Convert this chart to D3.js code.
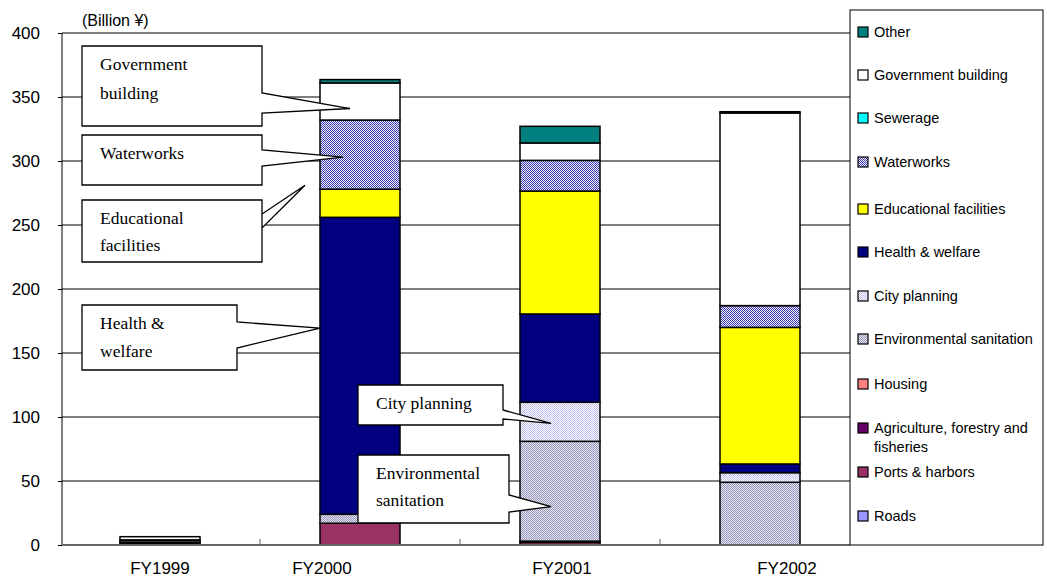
<!DOCTYPE html>
<html><head><meta charset="utf-8">
<script src="https://cdn.jsdelivr.net/npm/d3@7"></script>
<style>body{margin:0;background:#fff}svg{display:block}</style>
</head><body><svg id="c" width="1047" height="583"></svg>
<script>
const categories = ["FY1999","FY2000","FY2001","FY2002"];
const seriesNames = ["Roads","Ports & harbors","Agriculture, forestry and fisheries","Housing","Environmental sanitation","City planning","Health & welfare","Educational facilities","Waterworks","Sewerage","Government building","Other"];
const roads      = [0, 0, 0, 0];
const ports      = [1.5, 17, 2, 0];
const agri       = [0.5, 0, 1, 0];
const housing    = [0, 0, 0, 0];
const envSan     = [1.5, 7, 78, 49];
const cityPlan   = [0, 0, 30.5, 7.5];
const health     = [0.5, 232, 69, 6.8];
const education  = [0, 22, 96, 106.7];
const waterworks = [0, 54, 24, 17];
const sewerage   = [0, 0, 0, 0];
const govBuild   = [2.5, 29, 13.6, 150.5];
const other      = [0, 2.6, 13, 1];
const yTicks = [0,50,100,150,200,250,300,350,400];

const seriesValues = [roads, ports, agri, housing, envSan, cityPlan, health, education, waterworks, sewerage, govBuild, other];
const fills = ["#9999ff","#993366","#660066","#ff8080","url(#pEnv)","url(#pCity)","#000080","#ffff00","url(#pWater)","#00ffff","#ffffff","#008080"];

const svg = d3.select("#c");
const defs = svg.append("defs");
function checker(id, dark, light){
  const p = defs.append("pattern").attr("id",id).attr("width",2).attr("height",2).attr("patternUnits","userSpaceOnUse");
  p.append("rect").attr("width",2).attr("height",2).attr("fill",light);
  p.append("rect").attr("width",1).attr("height",1).attr("fill",dark);
  p.append("rect").attr("x",1).attr("y",1).attr("width",1).attr("height",1).attr("fill",dark);
}
checker("pWater","#3333b0","#ffffff");
checker("pCity","#c0c0ec","#ffffff");
checker("pEnv","#9898c0","#e4e4ec");

const x = d3.scaleBand().domain(categories).range([60,860]).paddingInner(0.6).paddingOuter(0.3);
const y = d3.scaleLinear().domain([0,400]).range([545,33]);

// gridlines
svg.append("g").selectAll("line").data(yTicks.filter(d=>d>0)).join("line")
  .attr("x1",62).attr("x2",850).attr("y1",d=>y(d)).attr("y2",d=>y(d))
  .attr("stroke","#000").attr("stroke-width",1.2);

// y axis
const ya = svg.append("g").attr("transform","translate(62,0)")
  .call(d3.axisLeft(y).tickValues(yTicks).tickSize(4).tickPadding(18));
ya.select(".domain").attr("stroke","#000").attr("d","M0,545V33");
ya.selectAll("text").attr("font-family","Liberation Sans, Arial, sans-serif").attr("font-size",17).attr("fill","#000");

// bars
const stacked = d3.stack().keys(d3.range(seriesNames.length))
  .value((i,k)=>seriesValues[k][i])(d3.range(categories.length));
const gBars = svg.append("g");
stacked.forEach((layer,k)=>{
  gBars.selectAll(null).data(layer.map((d,i)=>({d,i}))).join("rect")
    .filter(o=>o.d[1]-o.d[0]>0)
    .attr("x",o=>x(categories[o.i])).attr("width",x.bandwidth())
    .attr("y",o=>y(o.d[1])).attr("height",o=>y(o.d[0])-y(o.d[1]))
    .attr("fill",fills[k]).attr("stroke","#000").attr("stroke-width",1.5);
});

// x axis
const xa = svg.append("g").attr("transform","translate(0,545)");
xa.append("line").attr("x1",62).attr("x2",850).attr("stroke","#666").attr("stroke-width",2);
xa.selectAll("line.t").data(x.domain().slice(1)).join("line").attr("class","t")
  .attr("x1",d=>x(d)-x.step()*x.paddingInner()/2).attr("x2",d=>x(d)-x.step()*x.paddingInner()/2)
  .attr("y1",0).attr("y2",-6).attr("stroke","#666");
const labelShift = [0,-38,2,27];
xa.selectAll("text").data(categories).join("text")
  .attr("x",(d,i)=>x(d)+x.bandwidth()/2+labelShift[i]).attr("y",29)
  .attr("text-anchor","middle").attr("font-family","Liberation Sans, Arial, sans-serif").attr("font-size",17).text(d=>d);

// unit label
svg.append("text").attr("x",82).attr("y",26).attr("font-family","Liberation Sans, Arial, sans-serif").attr("font-size",16).text("(Billion ¥)");

// callouts
function callout(bx,by,bw,bh,b1,b2,tx,ty,lines,lineH){
  const r=bx+bw;
  const path=`M${bx},${by}H${r}V${b1}L${tx},${ty}L${r},${b2}V${by+bh}H${bx}Z`;
  svg.append("path").attr("d",path).attr("fill","#fff").attr("stroke","#000").attr("stroke-width",1.3);
  lines.forEach((t,i)=>svg.append("text").attr("x",bx+18).attr("y",by+24+i*lineH)
    .attr("font-family","Liberation Serif, Times New Roman, serif").attr("font-size",17.5).text(t));
}
const cx = c=>x(c);
callout(82,46,180,80,93,113,cx("FY2000")+30,y(341),["Government","building"],29);
callout(82,135,180,50,150,166,cx("FY2000")+23,y(303),["Waterworks"],29);
callout(82,200,180,62,228,214,cx("FY2000")-15,y(281),["Educational","facilities"],27);
callout(82,305,155,65,322,348,cx("FY2000"),y(169.5),["Health &","welfare"],28);
callout(358,385,145,40,410,419,cx("FY2001")+31,y(95),["City planning"],29);
callout(358,455,151,68,495,512,cx("FY2001")+31,y(30),["Environmental","sanitation"],27);

// legend
const lg = svg.append("g");
lg.append("rect").attr("x",850).attr("y",10).attr("width",193).attr("height",535).attr("fill","#fff").attr("stroke","#000").attr("stroke-width",1);
const legendY = [32,75,118,162,209,252,296,339,384,428,472,516];
const legendOrder = d3.range(seriesNames.length).reverse();
const lf = "Liberation Sans, Arial, sans-serif";
legendOrder.forEach((k,j)=>{
  const yy = legendY[j];
  lg.append("rect").attr("x",858).attr("y",yy-5).attr("width",10).attr("height",10).attr("fill",fills[k]).attr("stroke","#000").attr("stroke-width",1.2);
  const name = seriesNames[k];
  if(name.startsWith("Agriculture")){
    lg.append("text").attr("x",874).attr("y",yy+5).attr("font-family",lf).attr("font-size",14.5).text("Agriculture, forestry and");
    lg.append("text").attr("x",874).attr("y",yy+24).attr("font-family",lf).attr("font-size",14.5).text("fisheries");
  } else {
    lg.append("text").attr("x",874).attr("y",yy+5).attr("font-family",lf).attr("font-size",14.5).text(name);
  }
});
</script></body></html>
